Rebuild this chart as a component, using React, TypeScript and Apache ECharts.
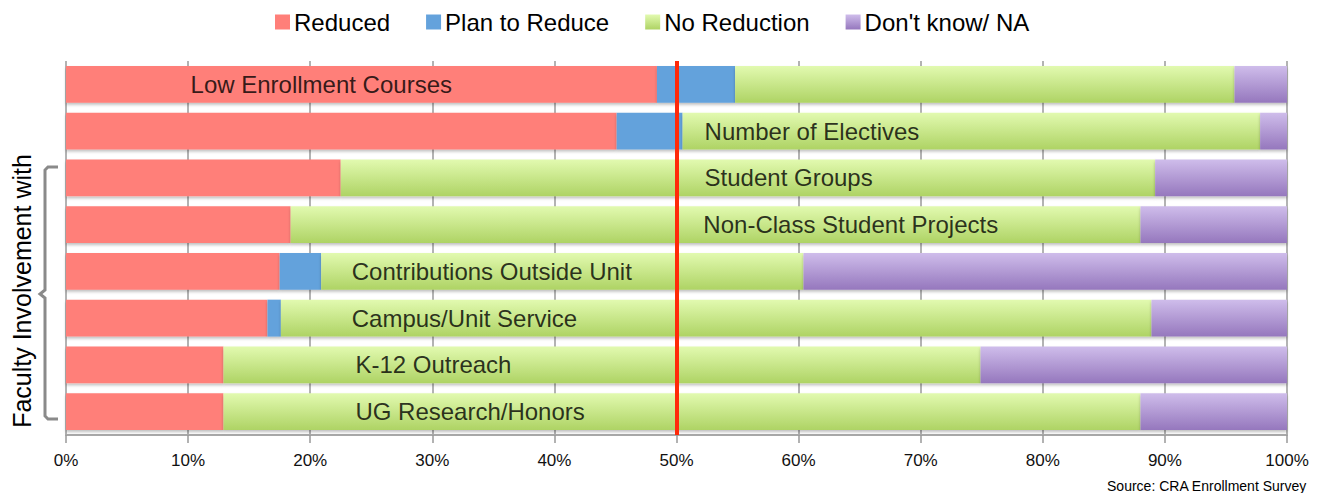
import React, { useEffect, useRef } from "react";
import * as echarts from "echarts";

const categories = [
  "Low Enrollment Courses",
  "Number of Electives",
  "Student Groups",
  "Non-Class Student Projects",
  "Contributions Outside Unit",
  "Campus/Unit Service",
  "K-12 Outreach",
  "UG Research/Honors",
];
const seriesNames = ["Reduced", "Plan to Reduce", "No Reduction", "Don't know/ NA"];
const reduced = [48.4, 45.1, 22.5, 18.4, 17.5, 16.5, 12.9, 12.9];
const planToReduce = [6.4, 5.4, 0, 0, 3.4, 1.1, 0, 0];
const noReduction = [40.9, 47.3, 66.7, 69.6, 39.5, 71.3, 62.0, 75.1];
const dontKnow = [4.3, 2.2, 10.8, 12.0, 39.6, 11.1, 25.1, 12.0];
const labelStart = [10.2, 52.3, 52.3, 52.2, 23.4, 23.4, 23.7, 23.7];
const xTicks = [0, 10, 20, 30, 40, 50, 60, 70, 80, 90, 100];
const referenceLine = 50;
const groupTitle = "Faculty Involvement with";
const sourceText = "Source: CRA Enrollment Survey";

const FONT = "'Liberation Sans', Arial, Helvetica, sans-serif";

export default function App() {
  const ref = useRef<HTMLDivElement>(null);

  useEffect(() => {
    if (!ref.current) return;
    const chart = echarts.init(ref.current, null, { renderer: "svg" });
    const grad = (top: string, bottom: string) =>
      new echarts.graphic.LinearGradient(0, 0, 0, 1, [
        { offset: 0, color: top },
        { offset: 1, color: bottom },
      ]);
    const colors = [
      "#ff7f79",
      "#64a2dc",
      grad("#e2fab0", "#aed364"),
      grad("#cfbdeb", "#9577bd"),
    ];
    const values = [reduced, planToReduce, noReduction, dontKnow];
    const barShadow = {
      shadowBlur: 3,
      shadowColor: "rgba(0,0,0,0.25)",
      shadowOffsetY: 2,
    };

    const barSeries: any[] = values.map((vals, i) => ({
      name: seriesNames[i],
      type: "bar",
      stack: "total",
      barCategoryGap: "21%",
      data: vals,
      itemStyle: { color: colors[i], ...barShadow },
      emphasis: { disabled: true },
      ...(i === 3
        ? {
            markLine: {
              silent: true,
              symbol: "none",
              label: { show: false },
              lineStyle: { color: "#ff2a0a", width: 4, type: "solid" },
              data: [{ xAxis: referenceLine }],
              z: 10,
            },
          }
        : {}),
    }));

    const option: any = {
      animation: false,
      textStyle: { fontFamily: FONT },
      legend: {
        data: seriesNames,
        left: 270,
        top: 5,
        itemWidth: 15,
        itemHeight: 15,
        itemGap: 36,
        icon: "rect",
        textStyle: { fontSize: 24, color: "#000", fontFamily: FONT, padding: [0, 0, 0, -1] },
      },
      grid: { left: 66, right: 31, top: 61, bottom: 58, containLabel: false },
      xAxis: {
        type: "value",
        min: xTicks[0],
        max: xTicks[xTicks.length - 1],
        interval: 10,
        axisLine: { show: true, lineStyle: { color: "#a8a8a8", width: 2 } },
        axisTick: { show: true, length: 8, lineStyle: { color: "#999", width: 1.5 } },
        splitLine: { show: true, lineStyle: { color: "#9a9a9a", width: 1.5 } },
        axisLabel: {
          formatter: "{value}%",
          fontSize: 17,
          color: "#111",
          margin: 17,
          fontFamily: FONT,
        },
      },
      yAxis: {
        type: "category",
        data: categories,
        inverse: true,
        axisLine: { show: false },
        axisTick: { show: false },
        axisLabel: { show: false },
      },
      series: [
        ...barSeries,
        {
          name: "labels",
          type: "scatter",
          symbolSize: 0,
          silent: true,
          z: 20,
          data: categories.map((c, i) => [labelStart[i], c]),
          label: {
            show: true,
            position: "right",
            distance: 0,
            formatter: (p: any) => p.name || categories[p.dataIndex],
            fontSize: 24,
            color: "#000",
            fontFamily: FONT,
          },
        },
      ],
      graphic: [
        {
          type: "polyline",
          shape: {
            points: [
              [58, 167],
              [48, 167],
              [45, 170],
              [45, 290],
              [40, 294],
              [45, 298],
              [45, 416],
              [48, 419],
              [58, 419],
            ],
          },
          style: { stroke: "#8a8a8a", lineWidth: 3, fill: null },
        },
        {
          type: "text",
          x: 22,
          y: 291,
          rotation: Math.PI / 2,
          style: {
            text: groupTitle,
            fontSize: 25,
            fontFamily: FONT,
            fill: "#000",
            align: "center",
            verticalAlign: "middle",
          },
        },
        {
          type: "text",
          right: 11,
          top: 479,
          style: {
            text: sourceText,
            fontSize: 14,
            fontFamily: FONT,
            fill: "#000",
          },
        },
      ],
    };
    chart.setOption(option);
    return () => chart.dispose();
  }, []);

  return (
    <div
      ref={ref}
      style={{ position: "absolute", left: 0, top: 0, width: 1318, height: 493, background: "#fff" }}
    />
  );
}
